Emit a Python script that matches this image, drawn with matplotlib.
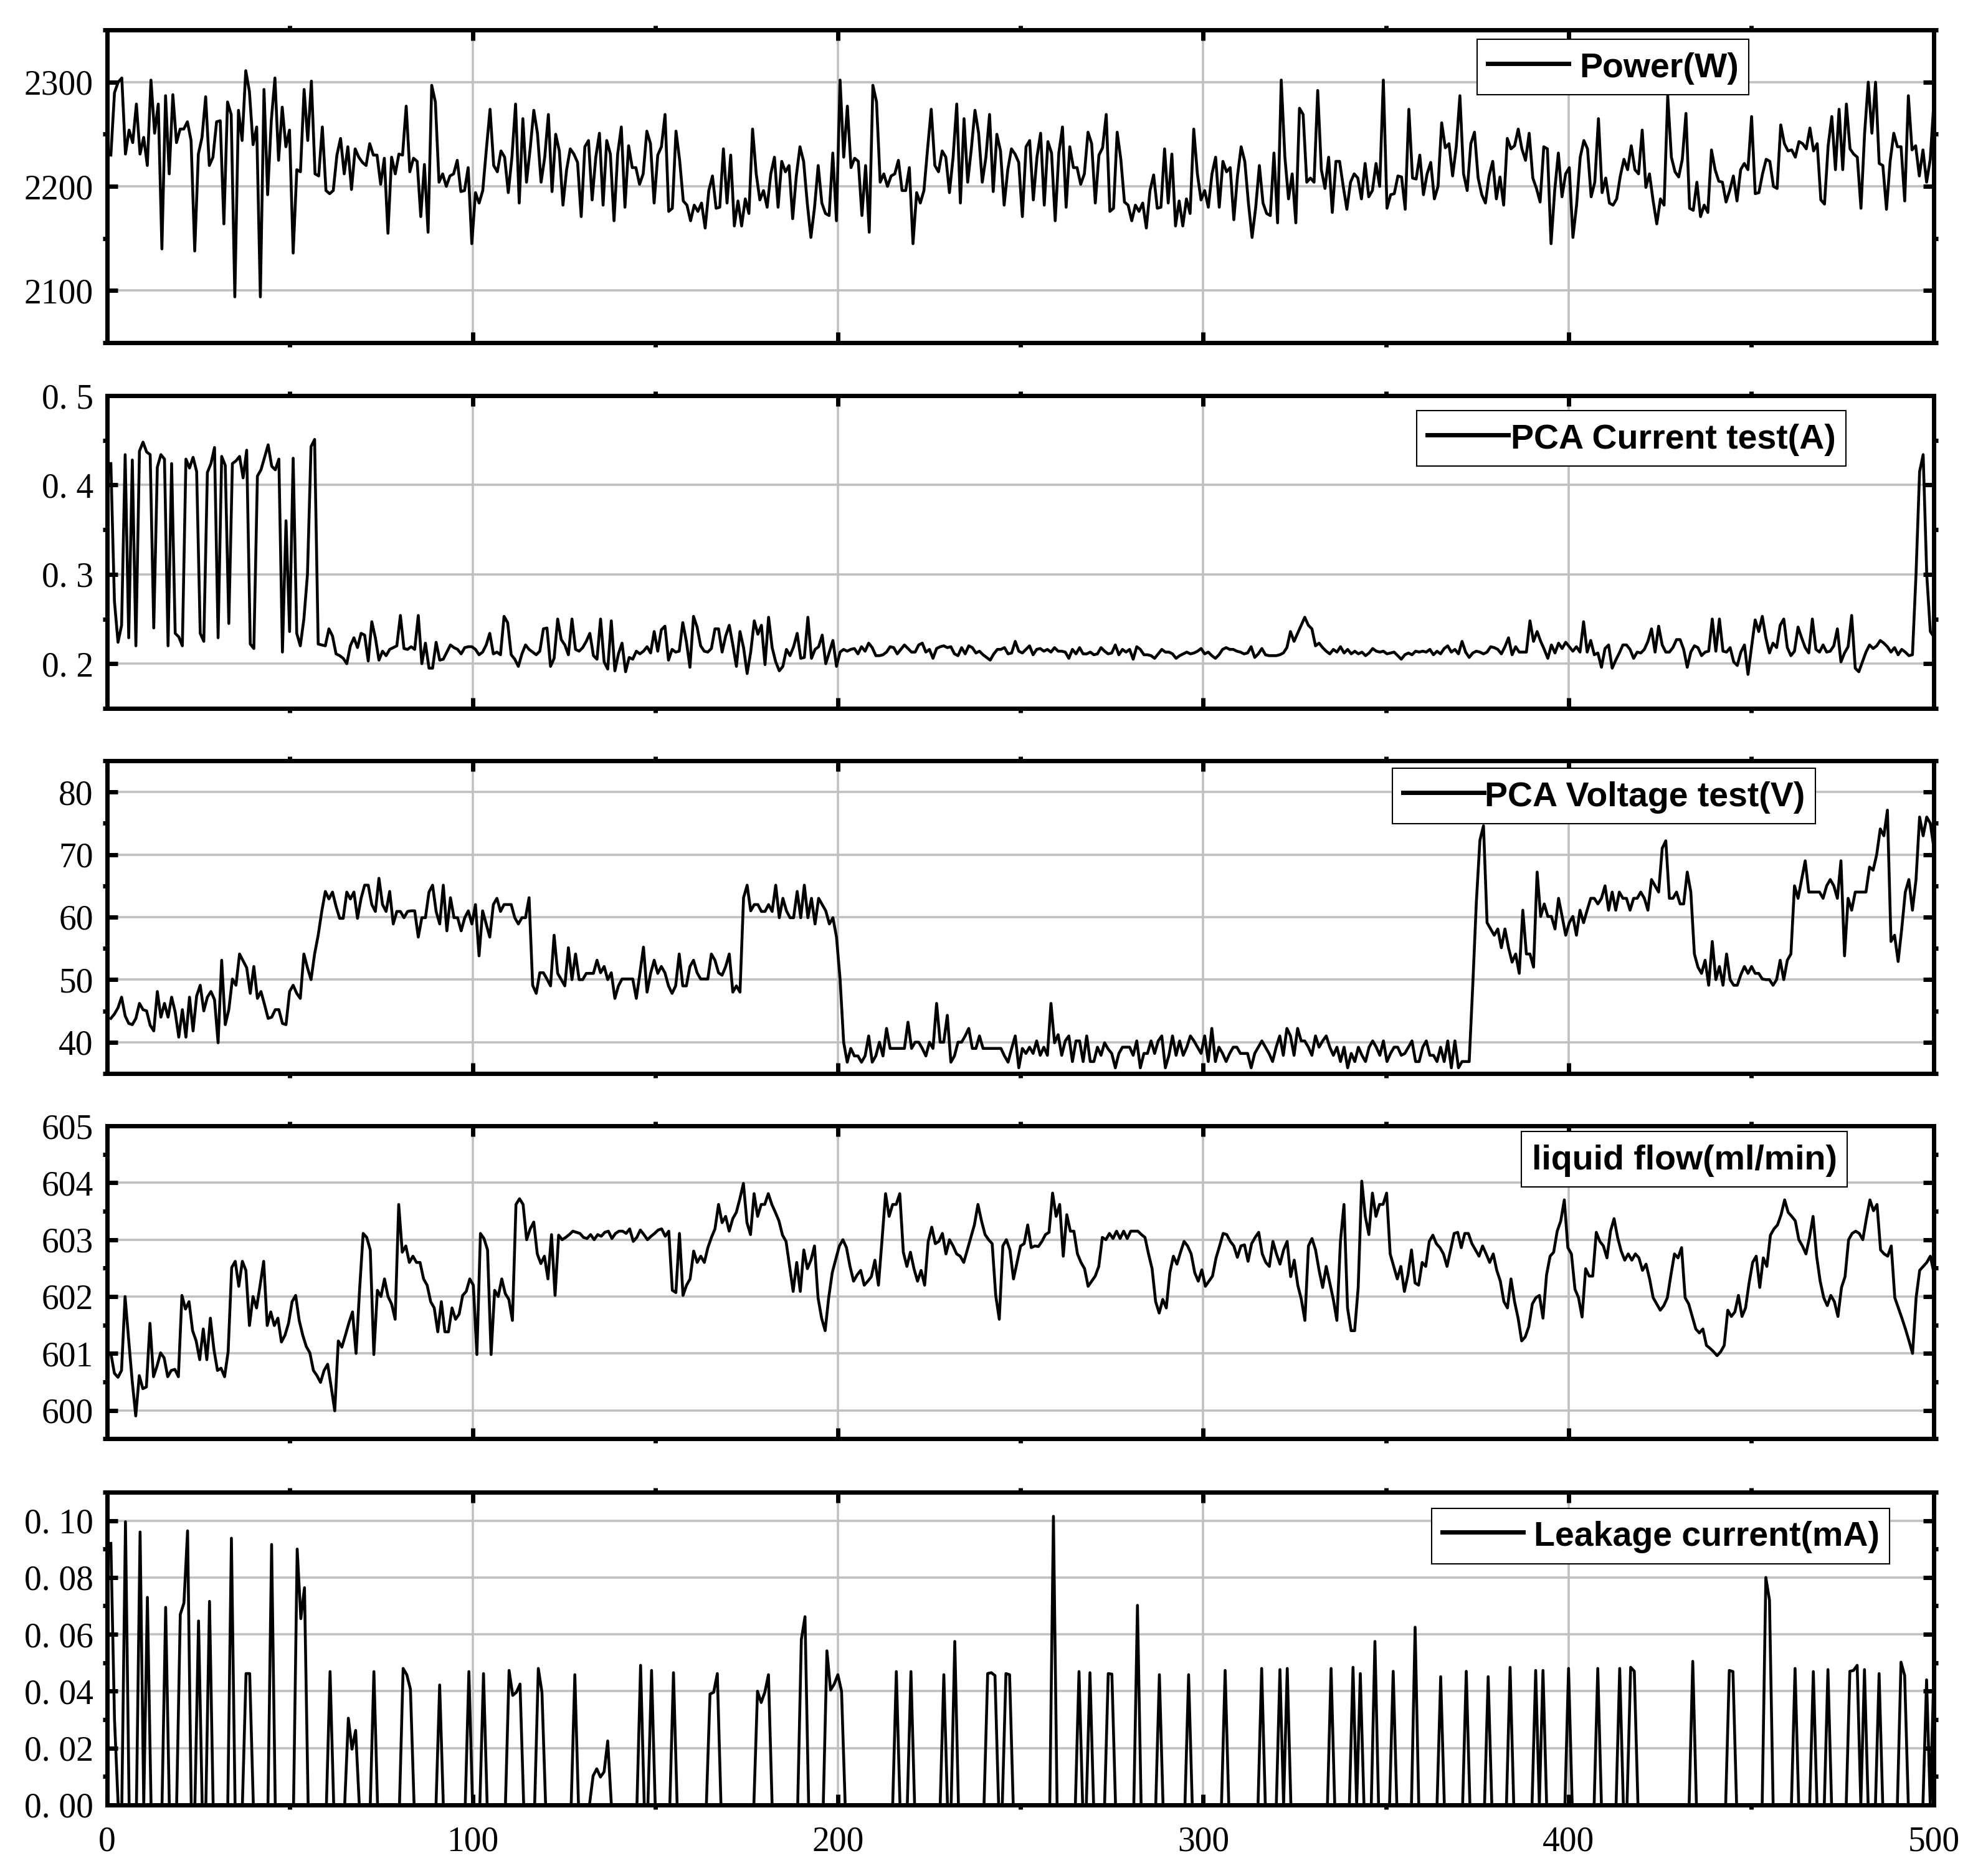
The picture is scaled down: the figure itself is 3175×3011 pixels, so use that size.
import matplotlib
matplotlib.use("Agg")
import matplotlib.pyplot as plt
import numpy as np
from matplotlib import font_manager
from matplotlib.lines import Line2D
from matplotlib.ticker import FixedLocator, FuncFormatter, MultipleLocator

plt.rcParams["font.family"] = ["Liberation Serif", "DejaVu Serif"]

N_SAMPLES = 500

# Power (W), samples 1..500
power_w = [
    2230, 2290, 2300, 2304, 2231, 2254, 2242, 2279, 2231, 2247,
    2220, 2302, 2251, 2279, 2140, 2287, 2212, 2288, 2242, 2255,
    2255, 2262, 2244, 2138, 2231, 2247, 2286, 2220, 2228, 2262,
    2263, 2164, 2281, 2269, 2094, 2273, 2244, 2311, 2291, 2240,
    2257, 2094, 2293, 2192, 2263, 2304, 2225, 2276, 2238, 2254,
    2136, 2216, 2214, 2293, 2244, 2301, 2212, 2210, 2257, 2196,
    2193, 2196, 2230, 2246, 2212, 2238, 2197, 2236, 2228, 2223,
    2220, 2241, 2230, 2230, 2202, 2227, 2155, 2228, 2212, 2231,
    2230, 2277, 2214, 2227, 2224, 2171, 2221, 2156, 2297, 2281,
    2204, 2212, 2200, 2210, 2212, 2225, 2195, 2196, 2218, 2145,
    2194, 2184, 2196, 2236, 2274, 2220, 2214, 2234, 2228, 2194,
    2228, 2279, 2184, 2265, 2204, 2236, 2273, 2251, 2204, 2228,
    2269, 2195, 2250, 2234, 2182, 2216, 2236, 2231, 2223, 2171,
    2238, 2244, 2187, 2228, 2251, 2182, 2244, 2231, 2167, 2231,
    2257, 2180, 2239, 2218, 2218, 2202, 2212, 2253, 2241, 2184,
    2230, 2238, 2269, 2176, 2179, 2253, 2225, 2186, 2182, 2167,
    2182, 2176, 2184, 2160, 2196, 2210, 2179, 2180, 2236, 2184,
    2230, 2162, 2186, 2162, 2188, 2174, 2255, 2212, 2187, 2196,
    2180, 2212, 2228, 2180, 2224, 2214, 2220, 2169, 2210, 2238,
    2224, 2184, 2151, 2180, 2220, 2184, 2174, 2172, 2232, 2167,
    2302, 2228, 2277, 2218, 2227, 2224, 2172, 2220, 2156, 2297,
    2281, 2204, 2212, 2200, 2210, 2212, 2225, 2196, 2196, 2218,
    2145, 2194, 2184, 2196, 2236, 2274, 2220, 2214, 2234, 2228,
    2194, 2228, 2279, 2184, 2265, 2204, 2236, 2273, 2251, 2204,
    2228, 2269, 2195, 2250, 2234, 2182, 2216, 2236, 2231, 2223,
    2171,
    2238, 2244, 2187, 2228, 2251, 2182, 2243, 2232, 2167, 2232,
    2257, 2180, 2238, 2218, 2218, 2202, 2212, 2252, 2241, 2184,
    2230, 2237, 2269, 2176, 2179, 2252, 2226, 2185, 2182, 2167,
    2182, 2176, 2184, 2160, 2196, 2211, 2179, 2180, 2236, 2184,
    2231, 2162, 2186, 2162, 2188, 2174, 2255, 2212, 2187, 2196,
    2180, 2212, 2228, 2180, 2224, 2214, 2218, 2168, 2210, 2238,
    2224, 2184, 2151, 2180, 2220, 2184, 2174, 2172, 2232, 2165,
    2302, 2228, 2188, 2212, 2165, 2275, 2269, 2204, 2208, 2204,
    2292, 2216, 2198, 2228, 2175, 2224, 2224, 2200, 2178, 2204,
    2212, 2208, 2188, 2222, 2190, 2196, 2222, 2200, 2302, 2179,
    2192, 2193, 2210, 2209, 2178, 2274, 2208, 2207, 2230, 2192,
    2212, 2223, 2188, 2200, 2261, 2237, 2241, 2210, 2238, 2287,
    2212, 2196, 2241, 2252, 2208, 2192, 2184, 2210, 2224, 2188,
    2209, 2182, 2246, 2236, 2239, 2255, 2236, 2225, 2251, 2208,
    2198, 2185, 2238, 2236, 2145, 2196, 2232, 2190, 2212, 2218,
    2151, 2182, 2228, 2244, 2236, 2190, 2204, 2265, 2194, 2208,
    2184, 2182, 2188, 2210, 2226, 2216, 2239, 2216, 2212, 2254,
    2199, 2212, 2186, 2164, 2188, 2182, 2287, 2228, 2214, 2209,
    2226, 2270, 2179, 2177, 2204, 2171, 2182, 2175, 2235, 2216,
    2205, 2204, 2185, 2196, 2210, 2186, 2216, 2222, 2216, 2267,
    2193, 2194, 2212, 2226, 2224, 2200, 2198, 2259, 2241, 2234,
    2235, 2228, 2243, 2241, 2236, 2256, 2234, 2241, 2187, 2183,
    2239, 2267, 2216, 2274, 2216, 2279, 2236, 2231, 2228, 2179,
    2251, 2300, 2251, 2300, 2222, 2220, 2178, 2224, 2251, 2238,
    2238, 2186, 2287, 2235, 2239, 2210, 2235, 2204, 2226, 2281,
]

# PCA current test (A)
pca_current_a = [
    0.424, 0.270, 0.224, 0.243, 0.434, 0.229, 0.428, 0.220, 0.438, 0.448,
    0.437, 0.434, 0.240, 0.420, 0.434, 0.429, 0.220, 0.424, 0.234, 0.230,
    0.220, 0.429, 0.419, 0.431, 0.415, 0.234, 0.225, 0.414, 0.424, 0.442,
    0.229, 0.432, 0.422, 0.245, 0.424, 0.427, 0.432, 0.408, 0.439, 0.222,
    0.217, 0.410, 0.417, 0.431, 0.445, 0.421, 0.417, 0.429, 0.213, 0.360,
    0.236, 0.430, 0.234, 0.220, 0.250, 0.300, 0.443, 0.451, 0.222, 0.221,
    0.220, 0.239, 0.231, 0.211, 0.209, 0.206, 0.200, 0.220, 0.229, 0.218,
    0.234, 0.232, 0.203, 0.247, 0.229, 0.204, 0.214, 0.209, 0.216, 0.218,
    0.220, 0.254, 0.217, 0.216, 0.219, 0.216, 0.254, 0.200, 0.223, 0.195,
    0.195, 0.224, 0.204, 0.205, 0.213, 0.221, 0.218, 0.216, 0.211, 0.218,
    0.219, 0.219, 0.216, 0.210, 0.213, 0.221, 0.234, 0.211, 0.213, 0.210,
    0.253, 0.246, 0.210, 0.205, 0.197, 0.211, 0.221, 0.216, 0.213, 0.210,
    0.214, 0.239, 0.240, 0.197, 0.206, 0.250, 0.227, 0.221, 0.210, 0.250,
    0.216, 0.214, 0.218, 0.225, 0.234, 0.209, 0.205, 0.250, 0.202, 0.194,
    0.248, 0.192, 0.211, 0.223, 0.191, 0.207, 0.205, 0.214, 0.211, 0.214,
    0.219, 0.212, 0.236, 0.214, 0.238, 0.242, 0.204, 0.216, 0.213, 0.214,
    0.246, 0.225, 0.196, 0.253, 0.241, 0.220, 0.214, 0.213, 0.217, 0.239,
    0.239, 0.213, 0.231, 0.243, 0.221, 0.197, 0.236, 0.218, 0.189, 0.213,
    0.248, 0.233, 0.243, 0.199, 0.252, 0.218, 0.202, 0.192, 0.197, 0.216,
    0.209, 0.219, 0.234, 0.206, 0.207, 0.252, 0.206, 0.216, 0.219, 0.232,
    0.200, 0.213, 0.226, 0.197, 0.213, 0.216, 0.214, 0.216, 0.217, 0.211,
    0.219, 0.214, 0.223, 0.218, 0.209, 0.209, 0.210, 0.213, 0.219, 0.218,
    0.211, 0.216, 0.221, 0.217, 0.213, 0.213, 0.221, 0.223, 0.213, 0.216,
    0.206, 0.217, 0.219, 0.220, 0.218, 0.219, 0.211, 0.209, 0.218, 0.211,
    0.220, 0.218, 0.212, 0.214, 0.210, 0.207, 0.204, 0.211, 0.216, 0.216,
    0.218, 0.211, 0.212, 0.225, 0.214, 0.212,
    0.216, 0.220, 0.210, 0.216, 0.217, 0.214, 0.216, 0.213, 0.218, 0.214,
    0.214, 0.213, 0.206, 0.216, 0.211, 0.218, 0.211, 0.211, 0.213, 0.210,
    0.211, 0.218, 0.214, 0.211, 0.212, 0.221, 0.210, 0.216, 0.213, 0.216,
    0.205, 0.219, 0.216, 0.210, 0.210, 0.209, 0.206, 0.211, 0.216, 0.213,
    0.213, 0.211, 0.206, 0.209, 0.211, 0.213, 0.211, 0.212, 0.214, 0.217,
    0.211, 0.213, 0.209, 0.206, 0.210, 0.216, 0.218, 0.216, 0.216, 0.214,
    0.213, 0.211, 0.212, 0.219, 0.207, 0.211, 0.217, 0.210, 0.209, 0.209,
    0.209, 0.210, 0.212, 0.218, 0.236, 0.225, 0.234, 0.243, 0.252, 0.243,
    0.239, 0.220, 0.223, 0.218, 0.214, 0.211, 0.216, 0.213, 0.219, 0.212,
    0.216, 0.211, 0.214, 0.211, 0.213, 0.209, 0.212, 0.217, 0.214, 0.213,
    0.214, 0.211, 0.212, 0.213, 0.209, 0.205, 0.210, 0.212, 0.210, 0.214,
    0.213, 0.214, 0.213, 0.216, 0.210, 0.214, 0.211, 0.217, 0.220, 0.213,
    0.216, 0.211, 0.225, 0.213, 0.207, 0.212, 0.214, 0.213, 0.211, 0.213,
    0.219, 0.218, 0.216, 0.211, 0.219, 0.229, 0.210, 0.219, 0.213, 0.213,
    0.213, 0.248, 0.225, 0.236, 0.225, 0.216, 0.206, 0.221, 0.212, 0.223,
    0.217, 0.224, 0.219, 0.214, 0.219, 0.213, 0.247, 0.213, 0.226, 0.210,
    0.212, 0.196, 0.217, 0.221, 0.195, 0.204, 0.212, 0.221, 0.221, 0.216,
    0.206, 0.213, 0.212, 0.216, 0.225, 0.239, 0.213, 0.242, 0.221, 0.213,
    0.213, 0.218, 0.227, 0.227, 0.216, 0.196, 0.213, 0.220, 0.218, 0.209,
    0.213, 0.214, 0.250, 0.214, 0.250, 0.214, 0.213, 0.218, 0.202, 0.198,
    0.213, 0.221, 0.188, 0.219, 0.249, 0.236, 0.253, 0.229, 0.212, 0.223,
    0.218, 0.243, 0.250, 0.218, 0.209, 0.214, 0.241, 0.229, 0.218, 0.212,
    0.250, 0.216, 0.213, 0.221, 0.213, 0.214, 0.220, 0.239, 0.202, 0.212,
    0.219, 0.254, 0.195, 0.191, 0.202, 0.213, 0.221, 0.217, 0.220, 0.226,
    0.223, 0.219, 0.213, 0.218, 0.210, 0.216, 0.213, 0.209, 0.210, 0.300,
    0.415, 0.434, 0.300, 0.236, 0.230,
]

# PCA voltage test (V)
pca_voltage_v = [
    43.8, 44.5, 45.5, 47.2, 44.2, 43.0, 42.8, 43.8, 46.2, 45.2,
    45.0, 42.7, 41.8, 48.1, 44.0, 46.2, 44.0, 47.2, 44.8, 40.8,
    45.2, 40.8, 47.2, 41.8, 47.4, 49.1, 45.0, 47.2, 48.1, 46.8,
    39.9, 53.1, 42.8, 45.2, 50.1, 49.1, 54.1, 53.0, 51.9, 47.8,
    52.1, 47.0, 48.1, 46.0, 43.8, 44.0, 45.2, 45.2, 43.0, 42.8,
    48.1, 49.1, 47.8, 47.0, 54.1, 51.9, 50.0, 54.1, 57.1, 60.9,
    64.1, 62.9, 64.0, 61.7, 59.8, 59.8, 64.0, 62.9, 64.0, 59.8,
    63.0, 65.1, 65.1, 62.0, 60.9, 66.2, 62.0, 60.9, 64.1, 58.9,
    60.9, 60.9, 59.9, 60.9, 61.0, 61.0, 56.8, 59.9, 59.9, 64.0,
    65.1, 60.9, 58.9, 65.1, 57.8, 63.1, 59.9, 59.9, 57.8, 59.9,
    61.0, 58.9, 62.0, 53.8, 61.0, 58.9, 56.8, 62.0, 63.0, 60.9,
    62.0, 62.0, 62.0, 59.9, 58.9, 59.9, 59.9, 63.1, 49.1, 47.8,
    51.1, 51.1, 50.1, 49.0, 57.1, 51.0, 50.0, 49.0, 55.1, 50.0,
    54.1, 50.0, 50.0, 51.0, 51.0, 51.0, 53.1, 51.1, 52.1, 50.0,
    51.1, 47.0, 49.0, 50.1, 50.1, 50.1, 50.1, 47.0, 51.0, 55.2,
    48.0, 51.0, 53.1, 51.0, 52.1, 51.1, 49.0, 47.8, 49.0, 54.1,
    49.0, 49.0, 52.1, 53.1, 51.1, 50.1, 50.1, 50.1, 54.1, 53.1,
    51.1, 50.7, 52.1, 54.1, 48.0, 49.0, 48.0, 63.1, 65.1, 61.0,
    62.0, 62.0, 60.9, 60.9, 62.0, 60.9, 65.1, 59.9, 63.0, 61.0,
    59.9, 59.9, 64.1, 59.9, 65.1, 59.9, 63.0, 58.9, 63.0, 62.0,
    61.0, 58.9, 59.9, 56.8, 50.1, 40.0, 36.8, 39.0, 37.8, 37.8,
    36.8, 37.8, 41.0, 36.8, 37.8, 40.0, 37.8, 42.2, 39.0, 39.0,
    39.0, 39.0, 39.0, 43.2, 39.0, 40.0, 40.0, 39.0, 37.8, 40.0,
    39.0, 46.2, 40.0, 40.0, 44.3, 36.8, 37.8, 40.0, 40.0, 41.0,
    42.2, 39.0, 39.0, 41.0, 39.0, 39.0, 39.0, 39.0, 39.0, 39.0,
    37.8, 36.8, 39.0, 41.0, 35.9, 39.0,
    38.2, 39.2, 38.2, 40.2, 37.9, 39.2, 37.9, 46.2, 39.9, 41.2,
    37.9, 40.2, 41.0, 36.9, 40.2, 40.2, 36.9, 41.0, 36.9, 36.9,
    39.2, 37.9, 39.9, 38.9, 38.2, 35.9, 38.2, 39.2, 39.2, 39.2,
    37.9, 40.2, 35.9, 38.2, 38.2, 40.2, 38.2, 40.2, 41.0, 35.9,
    37.9, 41.0, 37.9, 40.2, 37.9, 39.2, 41.0, 40.2, 39.2, 38.2,
    41.0, 36.9, 42.2, 36.9, 39.2, 38.2, 36.9, 38.2, 39.2, 39.2,
    38.2, 38.2, 38.2, 35.9, 38.2, 39.2, 40.2, 39.2, 38.2, 36.9,
    39.2, 41.0, 37.9, 42.2, 41.0, 37.9, 42.2, 40.2, 40.2, 39.2,
    37.9, 41.0, 39.2, 40.2, 41.0, 39.2, 37.9, 39.2, 36.9, 39.2,
    35.9, 38.2, 36.9, 39.2, 37.9, 36.9, 39.2, 40.2, 39.2, 37.9,
    40.2, 36.9, 38.2, 39.2, 39.2, 37.9, 38.2, 39.2, 40.2, 36.9,
    36.9, 39.2, 40.2, 37.9, 37.9, 36.9, 39.2, 36.9, 40.2, 35.9,
    40.2, 35.9, 36.9, 36.9, 36.9, 49.1, 62.4, 72.3, 74.6, 59.1,
    58.1, 57.1, 58.1, 55.1, 58.1, 55.1, 52.8, 54.1, 51.0, 61.1,
    54.1, 54.1, 52.0, 67.2, 60.1, 62.1, 60.1, 60.1, 58.1, 63.0,
    60.1, 57.1, 59.1, 60.1, 57.1, 61.1, 59.1, 61.1, 63.0, 63.0,
    62.1, 63.0, 65.0, 61.1, 64.0, 61.1, 64.0, 63.0, 63.0, 61.1,
    63.0, 63.0, 64.0, 63.0, 61.1, 66.0, 65.0, 64.0, 71.0, 72.2,
    63.0, 63.0, 64.0, 62.1, 62.1, 67.2, 64.0, 54.1, 52.0, 51.0,
    53.1, 49.1, 56.1, 50.0, 52.1, 49.1, 54.1, 50.0, 49.1, 49.1,
    50.8, 52.1, 51.0, 52.1, 51.0, 51.0, 50.1, 50.0, 50.0, 49.1,
    50.0, 53.1, 50.0, 53.1, 54.1, 65.0, 63.0, 66.0, 69.0, 64.0,
    64.0, 64.0, 64.0, 63.0, 65.0, 66.0, 65.0, 63.0, 69.0, 53.8,
    63.0, 61.1, 64.0, 64.0, 64.0, 64.0, 68.0, 67.5, 70.0, 74.1,
    73.0, 77.1, 56.1, 57.1, 52.9, 58.1, 64.0, 66.0, 61.1, 66.0,
    76.0, 73.0, 76.0, 75.0, 71.0,
]

# liquid flow (ml/min)
liquid_flow = [
    601.0, 600.65, 600.58, 600.7, 602.0, 601.25, 600.52, 599.9, 600.61, 600.38,
    600.41, 601.53, 600.59, 600.78, 601.01, 600.92, 600.59, 600.7, 600.72, 600.59,
    602.02, 601.78, 601.91, 601.4, 601.22, 600.89, 601.43, 600.89, 601.62, 601.07,
    600.7, 600.74, 600.59, 601.03, 602.51, 602.62, 602.18, 602.62, 602.46, 601.49,
    602.0, 601.8, 602.2, 602.62, 601.49, 601.73, 601.49, 601.62, 601.2, 601.32,
    601.53, 601.91, 602.02, 601.58, 601.32, 601.12, 601.01, 600.7, 600.61, 600.49,
    600.7, 600.81, 600.41, 599.99, 601.22, 601.11, 601.32, 601.54, 601.73, 601.0,
    602.13, 603.11, 603.04, 602.82, 600.98, 602.11, 602.0, 602.31, 602.0, 601.87,
    601.6, 603.62, 602.78, 602.89, 602.6, 602.71, 602.6, 602.6, 602.31, 602.2,
    601.91, 601.8, 601.38, 601.91, 601.38, 601.38, 601.8, 601.6, 601.69, 602.02,
    602.09, 602.31, 602.2, 600.98, 603.11, 603.02, 602.82, 600.98, 602.11, 602.0,
    602.31, 602.05, 601.95, 601.58, 603.62, 603.72, 603.62, 603.0, 603.19, 603.31,
    602.75, 602.58, 602.71, 602.31, 603.09, 602.02, 603.08, 603.0, 603.04, 603.09,
    603.15, 603.13, 603.11, 603.04, 603.02, 603.09, 603.0, 603.09, 603.06, 603.13,
    603.15, 603.02, 603.11, 603.15, 603.15, 603.11, 603.19, 602.97, 603.04, 603.17,
    603.09, 603.0, 603.06, 603.11, 603.17, 603.19, 603.06, 603.15, 602.11, 602.07,
    603.11, 602.02, 602.2, 602.31, 602.8, 602.6, 602.71, 602.6, 602.86, 603.04,
    603.19, 603.62, 603.3, 603.41, 603.15, 603.37, 603.48, 603.72, 603.99, 603.3,
    603.09, 603.81, 603.41, 603.62, 603.62, 603.81, 603.62, 603.48, 603.33, 603.08,
    602.97, 602.53, 602.09, 602.6, 602.09, 602.82, 602.49, 602.64, 602.89, 601.98,
    601.62, 601.4, 601.98, 602.42, 602.66, 602.89, 603.0, 602.86, 602.53, 602.27,
    602.38, 602.46, 602.2, 602.27, 602.35, 602.64, 602.2, 602.99, 603.81, 603.41,
    603.62, 603.62, 603.81, 602.78, 602.53, 602.78, 602.49, 602.27, 602.46, 602.2,
    602.97, 603.22, 602.93, 602.97, 603.11, 602.75, 603.0, 602.89, 602.75, 602.71,
    602.6, 602.82, 603.04, 603.26, 603.62, 603.33, 603.09, 603.0, 602.93, 602.02,
    601.6, 602.89, 603.0, 602.82, 602.31, 602.6, 602.89, 602.93, 603.26, 602.86,
    602.89,
    602.88, 602.97, 603.09, 603.13, 603.82, 603.41, 603.62, 602.71, 603.44, 603.15,
    603.15, 602.75, 602.6, 602.49, 602.18, 602.27, 602.36, 602.53, 603.04, 603.0,
    603.11, 603.02, 603.15, 603.02, 603.15, 603.02, 603.15, 603.15, 603.15, 603.09,
    603.04, 602.75, 602.49, 601.91, 601.71, 601.95, 601.8, 602.42, 602.71, 602.57,
    602.78, 602.97, 602.89, 602.75, 602.42, 602.27, 602.47, 602.18, 602.27, 602.36,
    602.68, 602.89, 603.11, 603.09, 602.97, 602.89, 602.69, 602.89, 602.91, 602.62,
    602.93, 603.04, 603.13, 602.75, 602.6, 602.53, 602.97, 602.75, 602.57, 602.82,
    602.97, 602.35, 602.64, 602.2, 601.95, 601.58, 602.89, 603.02, 602.82, 602.46,
    602.16, 602.53, 602.24, 601.95, 601.58, 602.97, 603.62, 601.8, 601.4, 601.4,
    602.16, 604.03, 603.41, 603.09, 603.82, 603.41, 603.62, 603.62, 603.82, 602.75,
    602.53, 602.31, 602.53, 602.09, 602.38, 602.82, 602.24, 602.2, 602.6, 602.53,
    602.97, 603.08, 602.93, 602.86, 602.75, 602.53, 602.82, 603.11, 603.13, 602.86,
    603.11, 603.11, 602.93, 602.82, 602.71, 602.89, 602.75, 602.6, 602.75, 602.46,
    602.27, 601.91, 601.8, 602.31, 601.91, 601.62, 601.22, 601.29, 601.47, 601.87,
    601.98, 602.02, 601.62, 602.38, 602.71, 602.78, 603.15, 603.33, 603.7, 602.86,
    602.75, 602.13, 601.98, 601.64, 602.49, 602.36, 602.36, 603.13, 602.97, 602.89,
    602.68, 603.15, 603.37, 603.04, 602.8, 602.64, 602.75, 602.64, 602.75, 602.68,
    602.46, 602.57, 602.31, 601.98, 601.87, 601.76, 601.84, 601.98, 602.38, 602.75,
    602.68, 602.86, 601.98, 601.87, 601.65, 601.43, 601.36, 601.43, 601.14, 601.09,
    601.03, 600.96, 601.03, 601.14, 601.76, 601.65, 601.73, 602.02, 601.65, 601.8,
    602.24, 602.6, 602.71, 602.16, 602.68, 602.53, 603.08, 603.19, 603.26, 603.44,
    603.7, 603.48, 603.41, 603.33, 603.0, 602.89, 602.75, 603.04, 603.41, 602.71,
    602.27, 601.98, 601.84, 602.02, 601.91, 601.65, 602.16, 602.35, 603.0, 603.11,
    603.15, 603.11, 603.0, 603.37, 603.7, 603.51, 603.62, 602.82, 602.75, 602.71,
    602.89, 601.98, 601.8, 601.62, 601.43, 601.22, 601.0, 601.98, 602.46, 602.53,
    602.6, 602.71, 602.42,
]

# Leakage current (mA): zero except at these samples
leak_idx = [
    1, 2, 5, 9, 11, 16, 20, 21, 22, 25, 28, 34, 38, 39, 45, 52, 53, 54,
    61, 66, 67, 68, 73, 81, 82, 83, 91, 99, 103, 110, 111, 112, 113, 118,
    119, 128, 133, 134, 135, 136, 137, 146, 149, 155, 165, 166, 167, 178,
    179, 180, 181, 190, 191, 197, 198, 199, 200, 201, 216, 220, 229, 232,
    241, 242, 243, 246, 247, 259, 266, 269, 274, 275, 282, 288, 296, 306,
    316, 321, 323, 335, 341, 343, 347, 352, 358, 365, 372, 378, 384, 391,
    393, 400, 408, 414, 417, 418, 434, 444, 445, 454, 455, 462, 467, 471,
    477, 478, 479, 481, 485, 491, 492, 498, 500,
]
leak_ma = [
    0.092, 0.030, 0.0996, 0.096, 0.073, 0.0695, 0.067, 0.071, 0.0964, 0.0647,
    0.0716, 0.0938, 0.0462, 0.0462, 0.0916, 0.090, 0.0655, 0.0764,
    0.0469, 0.0305, 0.0196, 0.0262, 0.0469, 0.048, 0.0458, 0.0407, 0.0422,
    0.0469, 0.0462, 0.0473, 0.0385, 0.0396, 0.0425, 0.048,
    0.0396, 0.0458, 0.0102, 0.0127, 0.0098, 0.0116, 0.0225, 0.0491, 0.0473,
    0.0465, 0.039, 0.0396, 0.0462, 0.040,
    0.036, 0.0396, 0.0458, 0.0582, 0.0662, 0.0542, 0.0404, 0.0425, 0.0458,
    0.040, 0.0469, 0.0469, 0.0458, 0.0575,
    0.0462, 0.0465, 0.0455, 0.0462, 0.0458, 0.1015, 0.0469, 0.0465, 0.0462,
    0.046, 0.0702, 0.0458, 0.0458, 0.0473,
    0.048, 0.0476, 0.048, 0.048, 0.0484, 0.0462, 0.0575, 0.047, 0.0625,
    0.0451, 0.047, 0.0451, 0.0484, 0.0473,
    0.0473, 0.048, 0.048, 0.048, 0.0484, 0.047, 0.0505, 0.0473, 0.0469,
    0.080, 0.072, 0.048, 0.0469, 0.0476,
    0.047, 0.0473, 0.0491, 0.0476, 0.0462, 0.0502, 0.0455, 0.044, 0.047,
]

# legend text: bold, slightly condensed sans
_installed = {f.name for f in font_manager.fontManager.ttflist}
if "Liberation Sans Narrow" in _installed:
    LEGEND_FONT = dict(family="Liberation Sans Narrow", weight="bold", size=47)
    EM = 47 * 100 / 72
else:
    LEGEND_FONT = dict(family="Liberation Sans", weight="bold", size=40)
    EM = 40 * 100 / 72


def dotted(decimals):
    # tick labels drawn as "0. 5" like the original
    return FuncFormatter(lambda v, pos: f"{v:.{decimals}f}".replace(".", ". "))


def plain_int():
    return FuncFormatter(lambda v, pos: f"{v:.0f}")


leak_series = np.zeros(N_SAMPLES)
leak_series[np.array(leak_idx) - 1] = leak_ma

panels = [
    dict(y=power_w, label="Power(W)", ylim=(2050, 2350), major=[2100, 2200, 2300],
         minor=50, fmt=plain_int(), anchor=(0.8987, 0.970), handle=True, textpad=17),
    dict(y=pca_current_a, label="PCA Current test(A)", ylim=(0.15, 0.5),
         major=[0.2, 0.3, 0.4, 0.5], minor=0.05, fmt=dotted(1),
         anchor=(0.952, 0.952), handle=True, textpad=4),
    dict(y=pca_voltage_v, label="PCA Voltage test(V)", ylim=(35, 85),
         major=[40, 50, 60, 70, 80], minor=5, fmt=plain_int(),
         anchor=(0.935, 0.976), handle=True, textpad=1),
    dict(y=liquid_flow, label="liquid flow(ml/min)", ylim=(599.5, 605),
         major=[600, 601, 602, 603, 604, 605], minor=0.5, fmt=plain_int(),
         anchor=(0.9526, 0.982), handle=False, textpad=0),
    dict(y=leak_series, label="Leakage current(mA)", ylim=(0, 0.11),
         major=[0.0, 0.02, 0.04, 0.06, 0.08, 0.10], minor=0.01, fmt=dotted(2),
         anchor=(0.9758, 0.9485), handle=True, textpad=17),
]

fig = plt.figure(figsize=(31.75, 30.11), dpi=100)
fig.set_facecolor("white")

left, width, height = 0.0542, 0.9235, 0.1667
bottoms = [0.8173, 0.6224, 0.4278, 0.2331, 0.0379]

for i, (p, b) in enumerate(zip(panels, bottoms)):
    ax = fig.add_axes([left, b, width, height])
    vals = np.asarray(p["y"], dtype=float)
    xs = np.linspace(1, N_SAMPLES, len(vals))
    ax.plot(xs, vals, color="black", linewidth=3.3, zorder=3)

    ax.set_xlim(0, 500)
    ax.set_ylim(*p["ylim"])
    ax.xaxis.set_major_locator(MultipleLocator(100))
    ax.xaxis.set_minor_locator(MultipleLocator(50))
    ax.yaxis.set_major_locator(FixedLocator(p["major"]))
    ax.yaxis.set_minor_locator(MultipleLocator(p["minor"]))
    ax.yaxis.set_major_formatter(p["fmt"])

    ax.set_axisbelow(True)
    ax.grid(True, which="major", color="#c0c0c0", linewidth=2.6)

    for s in ax.spines.values():
        s.set_linewidth(5)
    ax.tick_params(which="major", direction="in", length=12, width=5,
                   top=True, right=True, labelsize=40, pad=16)
    ax.tick_params(which="minor", direction="out", length=5, width=5,
                   top=True, right=True)
    last = i == len(panels) - 1
    ax.tick_params(axis="x", labelbottom=last, pad=24)

    if p["handle"]:
        h = Line2D([], [], color="black", linewidth=5)
        hl = 130 / EM
    else:
        h = Line2D([], [], color="none")
        hl = 0.0
    leg = ax.legend(handles=[h], labels=[p["label"]], loc="upper right",
                    bbox_to_anchor=p["anchor"], bbox_transform=ax.transAxes,
                    borderaxespad=0, fancybox=False, framealpha=1,
                    edgecolor="black", prop=LEGEND_FONT, handlelength=hl,
                    handletextpad=p["textpad"] / EM, borderpad=0.3,
                    handleheight=1.0)
    leg.get_frame().set_linewidth(1.5)
    leg.set_zorder(5)

fig.savefig("out.png", dpi=100, facecolor="white")
